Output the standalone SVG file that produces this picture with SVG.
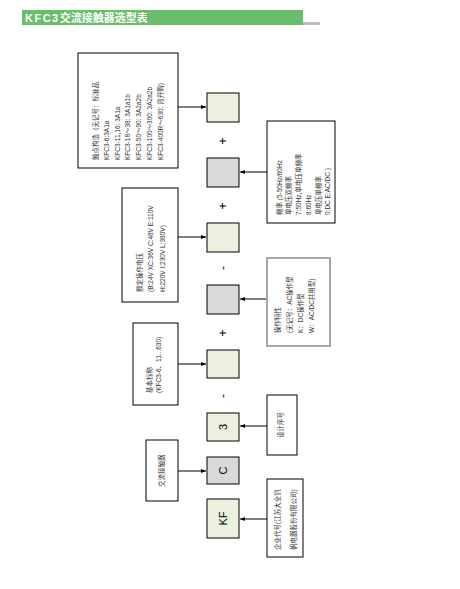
<svg xmlns="http://www.w3.org/2000/svg" width="460" height="589" viewBox="0 0 460 589">
<style>
.note{fill:#fff;stroke:#000;stroke-width:1}
.noteg{fill:#fff;stroke:#a6a6a6;stroke-width:2}
.g{fill:#ebf1de;stroke:#000;stroke-width:1}
.s{fill:#d9d9d9;stroke:#000;stroke-width:1}
.t{font-family:"Liberation Sans","Noto Sans CJK SC",sans-serif;font-size:6.5px;fill:#333}
.c{font-family:"Liberation Sans","Noto Sans CJK SC",sans-serif;font-size:11px;fill:#000;text-anchor:middle}
.op{font-family:"Liberation Sans",sans-serif;font-size:12px;fill:#000;text-anchor:middle}
.ln{stroke:#000;stroke-width:1;fill:none}
</style>
<defs>
<marker id="ah" viewBox="0 0 10 10" refX="10" refY="5" markerWidth="5" markerHeight="5" orient="auto" markerUnits="userSpaceOnUse">
<path d="M0,1 L10,5 L0,9 z" fill="#000"/>
</marker>
</defs>
<g id="title">
<rect x="22" y="10" width="281" height="15" fill="#6abd6a"/>
<rect x="303" y="22" width="17" height="3" fill="#bdbdbd"/>
<text x="25" y="22" font-family="Liberation Sans,'Noto Sans CJK SC',sans-serif" font-size="11" font-weight="bold" fill="#fff"><tspan letter-spacing="1.5">KFC3</tspan>交流接触器选型表</text>
</g>
<g id="connectors">
<path class="ln" d="M178,107 H206" marker-end="url(#ah)"/>
<path class="ln" d="M178,237 H206" marker-end="url(#ah)"/>
<path class="ln" d="M178,364 H206" marker-end="url(#ah)"/>
<path class="ln" d="M178,471 H206" marker-end="url(#ah)"/>
<path class="ln" d="M267,172 H240" marker-end="url(#ah)"/>
<path class="ln" d="M266,299 H240" marker-end="url(#ah)"/>
<path class="ln" d="M267,426 H240" marker-end="url(#ah)"/>
<path class="ln" d="M267,519 H240" marker-end="url(#ah)"/>
</g>
<g id="n-contact">
<rect class="note" x="78" y="53" width="100" height="115"/>
<text class="t" transform="translate(97.5,160) rotate(-90)">触点构造（无记号：标准品</text>
<text class="t" transform="translate(108.5,160) rotate(-90)">KFC3-6:3A1a</text>
<text class="t" transform="translate(119.5,160) rotate(-90)">KFC3-11,16: 3A1a</text>
<text class="t" transform="translate(130,160) rotate(-90)">KFC3-18～38: 3A1a1b</text>
<text class="t" transform="translate(140.5,160) rotate(-90)">KFC3-50～90: 3A2a2b</text>
<text class="t" transform="translate(151.5,160) rotate(-90)">KFC3-100～300: 3A2a2b</text>
<text class="t" transform="translate(162.5,160) rotate(-90)">KFC3-400R～630: 背开购)</text>
</g>
<g id="n-voltage">
<rect class="note" x="122" y="188" width="56" height="114"/>
<text class="t" transform="translate(141.5,292) rotate(-90)">额定操作电压</text>
<text class="t" transform="translate(153,292) rotate(-90)">(B:24V  XC:36V  C:48V  E:110V</text>
<text class="t" transform="translate(164.5,292) rotate(-90)">H:220V  I:230V  L:380V)</text>
</g>
<g id="n-basic">
<rect class="note" x="133" y="323" width="45" height="82"/>
<text class="t" transform="translate(151.5,393) rotate(-90)">基本标称</text>
<text class="t" transform="translate(160.5,393) rotate(-90)">(KFC3-6、11...630)</text>
</g>
<g id="n-ac">
<rect class="note" x="146" y="440" width="32" height="61"/>
<text class="t" transform="translate(163.5,487) rotate(-90)">交流接触器</text>
</g>
<g id="b1"><rect class="g" x="207" y="93" width="32" height="29"/></g>
<g id="b2"><rect class="s" x="207" y="158" width="32" height="29"/></g>
<g id="b3"><rect class="g" x="207" y="223" width="32" height="29"/></g>
<g id="b4"><rect class="s" x="207" y="285" width="32" height="29"/></g>
<g id="b5"><rect class="g" x="207" y="350" width="32" height="28"/></g>
<g id="b6"><rect class="g" x="207" y="413" width="32" height="28"/><text class="c" transform="translate(227,427) rotate(-90)">3</text></g>
<g id="b7"><rect class="s" x="207" y="457" width="32" height="27"/><text class="c" transform="translate(227,470.5) rotate(-90)">C</text></g>
<g id="b8"><rect class="g" x="207" y="499" width="32" height="39"/><text class="c" transform="translate(227,518.5) rotate(-90)">KF</text></g>
<g id="ops">
<text class="op" transform="translate(227,141) rotate(-90)">+</text>
<text class="op" transform="translate(227,206) rotate(-90)">+</text>
<text class="op" transform="translate(227,268) rotate(-90)">-</text>
<text class="op" transform="translate(227,333) rotate(-90)">+</text>
<text class="op" transform="translate(227,396) rotate(-90)">-</text>
</g>
<g id="n-freq">
<rect class="note" x="267" y="121" width="68" height="102"/>
<text class="t" transform="translate(281.5,215) rotate(-90)">频率 (5-50Hz/60Hz</text>
<text class="t" transform="translate(291,215) rotate(-90)">单电压双频率</text>
<text class="t" transform="translate(300.5,215) rotate(-90)">7:50Hz,单电压单频率</text>
<text class="t" transform="translate(311,215) rotate(-90)">8:60Hz</text>
<text class="t" transform="translate(320.5,215) rotate(-90)">单电压单频率</text>
<text class="t" transform="translate(330,215) rotate(-90)">0:DC     E:AC/DC )</text>
</g>
<g id="n-oper">
<rect class="noteg" x="267" y="258" width="63" height="88"/>
<text class="t" transform="translate(279.5,333) rotate(-90)">操作特性</text>
<text class="t" transform="translate(291.5,333) rotate(-90)">(无记号：AC操作型</text>
<text class="t" transform="translate(302.5,333) rotate(-90)">K：DC操作型</text>
<text class="t" transform="translate(314,333) rotate(-90)">W：AC/DC共用型)</text>
</g>
<g id="n-design">
<rect class="note" x="267" y="395" width="30" height="60"/>
<text class="t" transform="translate(282.5,438) rotate(-90)">设计序号</text>
</g>
<g id="n-company">
<rect class="note" x="267" y="479" width="36" height="78"/>
<text class="t" transform="translate(279.5,550) rotate(-90)">企业代号(江苏大全凯</text>
<text class="t" transform="translate(295.5,550) rotate(-90)">帆电器股份有限公司)</text>
</g>
</svg>
